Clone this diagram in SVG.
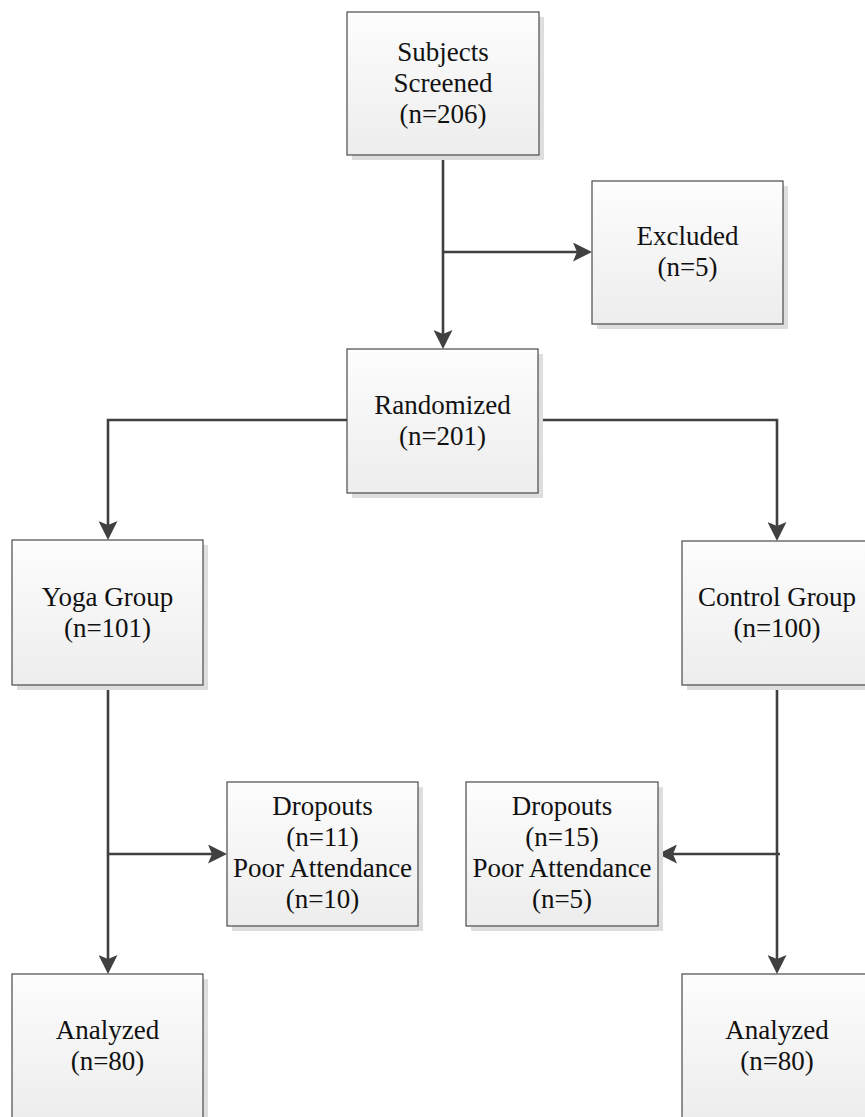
<svg xmlns="http://www.w3.org/2000/svg" width="865" height="1117" viewBox="0 0 865 1117">
  <style>
    .box { fill: url(#boxFill); stroke: #4a4a4a; stroke-width: 1.2; }
    .shadow { fill: #dedede; }
    .label { font-family: "Liberation Serif", "Times New Roman", serif; font-size: 27px; fill: #111; text-anchor: middle; }
    .link { fill: none; stroke: #404040; stroke-width: 2.6; }
  </style>
  <defs>
    <linearGradient id="boxFill" x1="0" y1="0" x2="0" y2="1">
      <stop offset="0" stop-color="#fdfdfd"/>
      <stop offset="1" stop-color="#ededed"/>
    </linearGradient>
    <marker id="arrow" viewBox="0 0 19 19" refX="15" refY="9.5" markerWidth="19" markerHeight="19" orient="auto" markerUnits="userSpaceOnUse">
      <path d="M0,0 L19,9.5 L0,19 L4,9.5 Z" fill="#404040"/>
    </marker>
  </defs>

  <rect width="865" height="1117" fill="#ffffff"/>

  <!-- connectors -->
  <g id="connectors">
    <path class="link" d="M443,155 V345" marker-end="url(#arrow)"/>
    <path class="link" d="M443,252 H588" marker-end="url(#arrow)"/>
    <path class="link" d="M347,420 H108 V536" marker-end="url(#arrow)"/>
    <path class="link" d="M538,420 H777 V537" marker-end="url(#arrow)"/>
    <path class="link" d="M108,685 V970" marker-end="url(#arrow)"/>
    <path class="link" d="M108,854 H223" marker-end="url(#arrow)"/>
    <path class="link" d="M777,685 V970" marker-end="url(#arrow)"/>
    <path class="link" d="M780,854 H662" marker-end="url(#arrow)"/>
  </g>

  <!-- screening -->
  <g id="screened">
    <rect class="shadow" x="352" y="17" width="192" height="143"/>
    <rect class="box" x="347" y="12" width="192" height="143"/>
    <text class="label" x="443" y="61">Subjects</text>
    <text class="label" x="443" y="92">Screened</text>
    <text class="label" x="443" y="123">(n=206)</text>
  </g>

  <g id="excluded">
    <rect class="shadow" x="597" y="186" width="191" height="143"/>
    <rect class="box" x="592" y="181" width="191" height="143"/>
    <text class="label" x="687.5" y="245">Excluded</text>
    <text class="label" x="687.5" y="276">(n=5)</text>
  </g>

  <g id="randomized">
    <rect class="shadow" x="352" y="354" width="191" height="144"/>
    <rect class="box" x="347" y="349" width="191" height="144"/>
    <text class="label" x="442.5" y="414">Randomized</text>
    <text class="label" x="442.5" y="445">(n=201)</text>
  </g>

  <!-- study arms -->
  <g id="yoga">
    <rect class="shadow" x="17" y="545" width="191" height="145"/>
    <rect class="box" x="12" y="540" width="191" height="145"/>
    <text class="label" x="107.5" y="606">Yoga Group</text>
    <text class="label" x="107.5" y="637">(n=101)</text>
  </g>

  <g id="control">
    <rect class="shadow" x="687" y="546" width="190" height="144"/>
    <rect class="box" x="682" y="541" width="190" height="144"/>
    <text class="label" x="777" y="606">Control Group</text>
    <text class="label" x="777" y="637">(n=100)</text>
  </g>

  <!-- losses -->
  <g id="yoga-dropouts">
    <rect class="shadow" x="232" y="787" width="191" height="144"/>
    <rect class="box" x="227" y="782" width="191" height="144"/>
    <text class="label" x="322.5" y="815">Dropouts</text>
    <text class="label" x="322.5" y="846">(n=11)</text>
    <text class="label" x="322.5" y="877">Poor Attendance</text>
    <text class="label" x="322.5" y="908">(n=10)</text>
  </g>

  <g id="control-dropouts">
    <rect class="shadow" x="471" y="787" width="192" height="144"/>
    <rect class="box" x="466" y="782" width="192" height="144"/>
    <text class="label" x="562" y="815">Dropouts</text>
    <text class="label" x="562" y="846">(n=15)</text>
    <text class="label" x="562" y="877">Poor Attendance</text>
    <text class="label" x="562" y="908">(n=5)</text>
  </g>

  <!-- analysis -->
  <g id="yoga-analyzed">
    <rect class="shadow" x="17" y="979" width="191" height="144"/>
    <rect class="box" x="12" y="974" width="191" height="144"/>
    <text class="label" x="107.5" y="1039">Analyzed</text>
    <text class="label" x="107.5" y="1070">(n=80)</text>
  </g>

  <g id="control-analyzed">
    <rect class="shadow" x="687" y="979" width="190" height="144"/>
    <rect class="box" x="682" y="974" width="190" height="144"/>
    <text class="label" x="777" y="1039">Analyzed</text>
    <text class="label" x="777" y="1070">(n=80)</text>
  </g>
</svg>
